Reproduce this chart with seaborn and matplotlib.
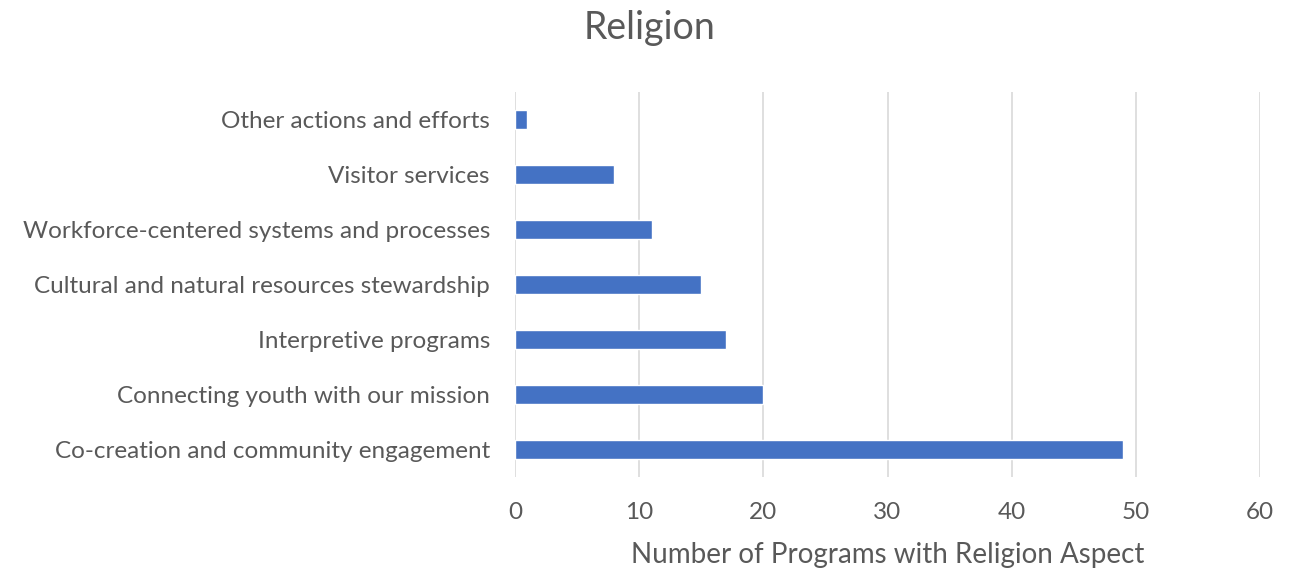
import matplotlib
matplotlib.use("Agg")
import matplotlib.pyplot as plt
import seaborn as sns
import pandas as pd

categories = [
    "Other actions and efforts",
    "Visitor services",
    "Workforce-centered systems and processes",
    "Cultural and natural resources stewardship",
    "Interpretive programs",
    "Connecting youth with our mission",
    "Co-creation and community engagement",
]
values = [1, 8, 11, 15, 17, 20, 49]
xticks = [0, 10, 20, 30, 40, 50, 60]

df = pd.DataFrame({"category": categories, "value": values})

sns.set_theme(style="white")
plt.rcParams["font.family"] = ["Lato", "DejaVu Sans"]

fig = plt.figure(figsize=(12.89, 5.71), dpi=100)
ax = fig.add_axes([515/1289, 1 - 477/571, (1260-515)/1289, (477-92)/571])

sns.barplot(data=df, x="value", y="category", color="#4472C4", width=0.36,
            saturation=1, ax=ax, zorder=3)

ax.set_xlim(0, 60)
ax.set_xticks(xticks)
ax.set_xticklabels([str(t) for t in xticks])
ax.set_ylim(6.5, -0.5)
ax.xaxis.grid(True, color="#d9d9d9", linewidth=1.2, zorder=0)
ax.yaxis.grid(False)
for s in ax.spines.values():
    s.set_visible(False)
ax.tick_params(axis="both", length=0, labelsize=17.5, labelcolor="#595959")
ax.tick_params(axis="y", pad=18)
ax.tick_params(axis="x", pad=18)
ax.set_ylabel("")
ax.set_xlabel("Number of Programs with Religion Aspect", fontsize=20, color="#595959",
              labelpad=14)
fig.text(650/1289, 1 - 28/571, "Religion", fontsize=27, color="#595959",
         ha="center", va="center")

fig.savefig("out.png", dpi=100)
